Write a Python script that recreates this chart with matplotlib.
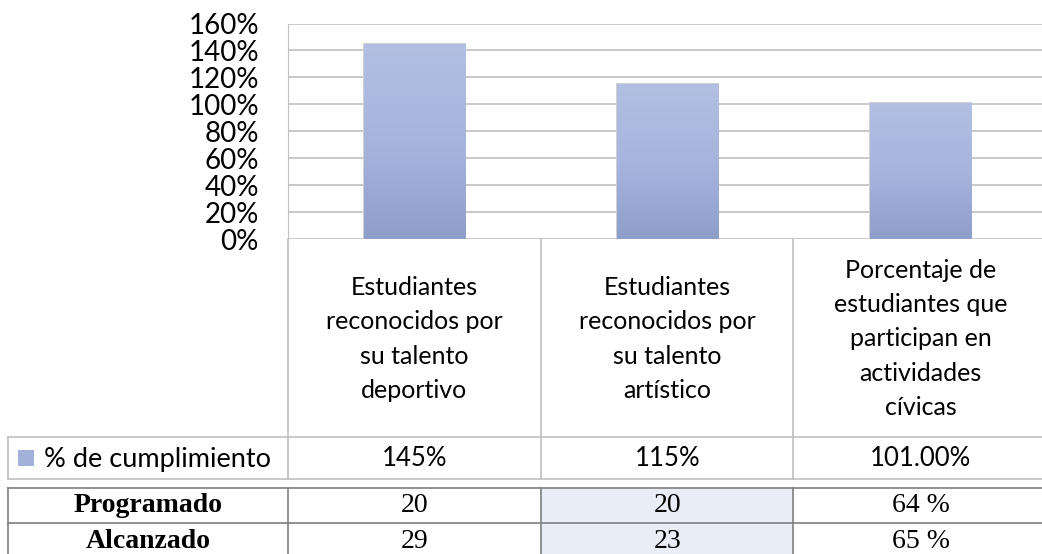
import numpy as np
import matplotlib.pyplot as plt
from matplotlib.colors import LinearSegmentedColormap
from matplotlib.patches import Rectangle
from matplotlib.transforms import blended_transform_factory

# datos
categorias = [
    "Estudiantes\nreconocidos por\nsu talento\ndeportivo",
    "Estudiantes\nreconocidos por\nsu talento\nartístico",
    "Porcentaje de\nestudiantes que\nparticipan en\nactividades\ncívicas",
]
serie = "% de cumplimiento"
cumplimiento = [145, 115, 101]
cumplimiento_txt = ["145%", "115%", "101.00%"]
filas = ["Programado", "Alcanzado"]
programado = ["20", "20", "64 %"]
alcanzado = ["29", "23", "65 %"]
yticks = [0, 20, 40, 60, 80, 100, 120, 140, 160]

W, H = 1042, 554
fig = plt.figure(figsize=(W / 100, H / 100), dpi=100)


def px(x0, y0, x1, y1):
    # caja en pixeles (origen arriba-izquierda) -> fraccion de figura
    return [x0 / W, 1 - y1 / H, (x1 - x0) / W, (y1 - y0) / H]


sans = "Lato"
serif = "Liberation Serif"
grid_c = "#BFBFBF"
dark_c = "#7F7F7F"

# grafico de barras
ax = fig.add_axes(px(288, 23.5, 1047, 239))
x = np.arange(len(cumplimiento))
bars = ax.bar(x, cumplimiento, width=0.4, color="none", zorder=3)
ax.set_xlim(-0.5, len(cumplimiento) - 0.5)
ax.set_ylim(0, 160)
ax.set_yticks(yticks)
ax.set_yticklabels([f"{t}%" for t in yticks], fontfamily=sans, fontsize=20)
ax.tick_params(axis="y", length=0, pad=21)
ax.set_xticks([])
ax.yaxis.grid(True, color=grid_c, linewidth=1.2)
ax.set_axisbelow(True)
for s in ["top", "right", "bottom"]:
    ax.spines[s].set_visible(False)
ax.spines["left"].set_color(grid_c)

# degradado de las barras
cmap = LinearSegmentedColormap.from_list("g", ["#8E9ECA", "#A7B5DE", "#B2BFE3"])
grad = np.linspace(0, 1, 256).reshape(-1, 1)
for b in bars:
    x0, w, h = b.get_x(), b.get_width(), b.get_height()
    sh = Rectangle((x0 - 0.004, 0), w + 0.008, h + 0.8, facecolor="#D0D0D0",
                   edgecolor="none", zorder=2)
    ax.add_patch(sh)
    im = ax.imshow(grad, cmap=cmap, origin="lower", aspect="auto",
                   extent=[x0, x0 + w, 0, h], zorder=3)
    im.set_clip_path(b)

# capa de tablas en pixeles
ov = fig.add_axes([0, 0, 1, 1])
ov.set_xlim(0, W)
ov.set_ylim(H, 0)
ov.axis("off")
tr = blended_transform_factory(ax.transData, ov.transData)

# tabla de datos del grafico
for xv in [288, 541, 793]:
    ov.plot([xv, xv], [239, 479], color=grid_c, lw=1.2)
ov.plot([8, 8], [437, 479], color=grid_c, lw=1.2)
for yv in [437, 479]:
    ov.plot([8, 1047], [yv, yv], color=grid_c, lw=1.2)

for i, cat in enumerate(categorias):
    ov.text(i, 339, cat, transform=tr, ha="center", va="center",
            fontfamily=sans, fontsize=18, linespacing=1.6)
    ov.text(i, 459, cumplimiento_txt[i], transform=tr, ha="center",
            va="center", fontfamily=sans, fontsize=18.5)

ov.add_patch(Rectangle((18, 450), 16, 16, facecolor="#A3B1DA", edgecolor="none"))
ov.text(44, 459, serie, ha="left", va="center", fontfamily=sans, fontsize=19.5)

# tabla programado / alcanzado
ov.add_patch(Rectangle((541, 488), 252, 70, facecolor="#E9EDF5",
                       edgecolor="none"))
for yv in [488, 523]:
    ov.plot([8, 1047], [yv, yv], color=dark_c, lw=1.2)
for xv in [8, 288, 541, 793]:
    ov.plot([xv, xv], [488, 560], color=dark_c, lw=1.2)

for r, (nombre, vals) in enumerate(zip(filas, [programado, alcanzado])):
    yc = 506 + r * 35
    ov.text(148, yc, nombre, ha="center", va="center", fontfamily=serif,
            fontweight="bold", fontsize=20)
    for i, v in enumerate(vals):
        ov.text(i, yc, v, transform=tr, ha="center", va="center",
                fontfamily=serif, fontsize=20)

fig.savefig("out.png", dpi=100)
